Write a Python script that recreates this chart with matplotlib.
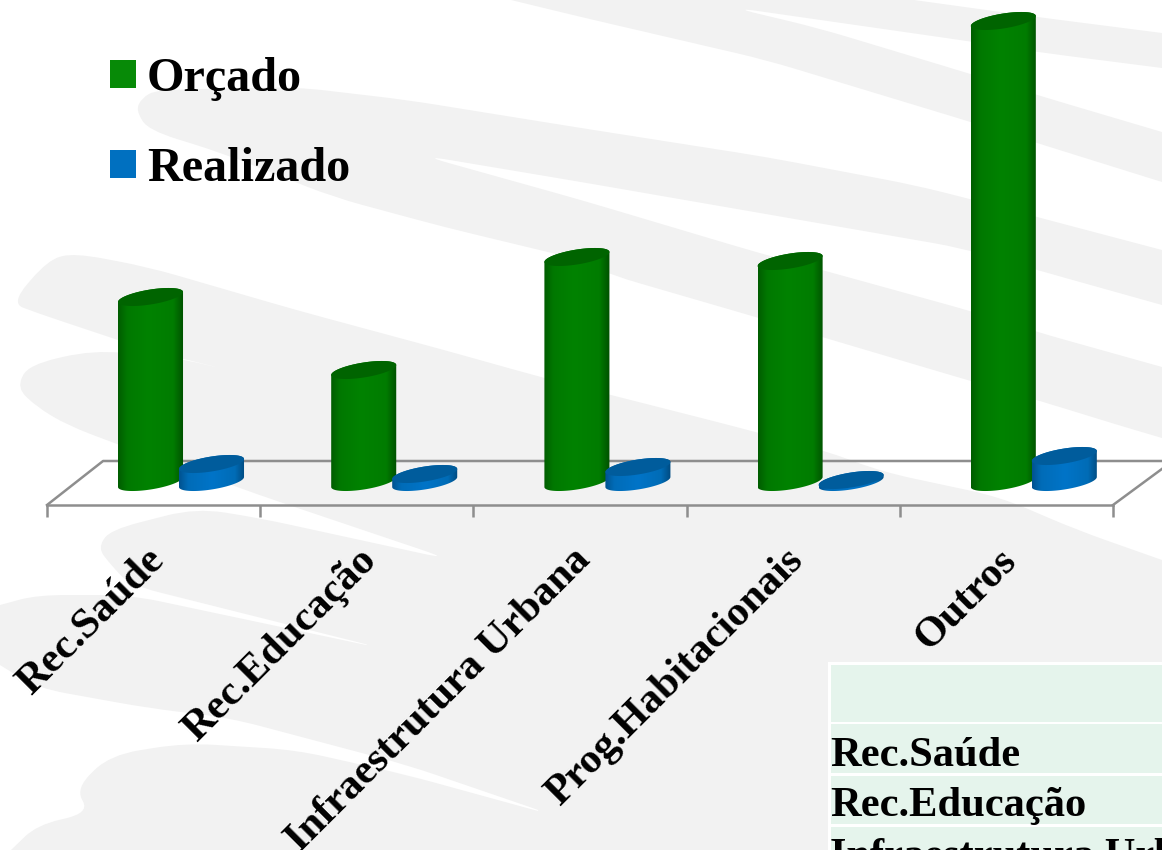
# -*- coding: utf-8 -*-
import numpy as np
import matplotlib
matplotlib.use("Agg")
import matplotlib.pyplot as plt
from matplotlib.colors import LinearSegmentedColormap
from matplotlib.patches import Patch, PathPatch, Polygon, Rectangle
from matplotlib.path import Path
from matplotlib.transforms import ScaledTranslation

# values (no scale shown, so pixels of height)
categories = ['Rec.Saúde', 'Rec.Educação', 'Infraestrutura Urbana', 'Prog.Habitacionais', 'Outros']
orcado = [185, 112, 225, 221, 461]
realizado = [18, 8, 15, 2, 26]
table_rows = ['Rec.Saúde', 'Rec.Educação', 'Infraestrutura Urbana']

W, H = 1162, 850
GREY = '#f2f2f2'
LINE = '#8e8e8e'
SERIF = 'Liberation Serif'

# background swooshes, in pixels
swoosh_a = [(511, 0), (914, 0), (1037, 17), (1162, 33), (1162, 68), (1037, 52), (974, 42), (730, 7),
            (818, 28), (974, 75), (1037, 95), (1162, 132), (1162, 182), (1037, 143), (974, 123),
            (766, 60), (581, 17)]
swoosh_b = [(136, 110), (142, 98), (156, 90), (296, 87), (407, 100), (581, 128), (766, 157), (914, 185),
            (974, 200), (1037, 217), (1162, 250), (1162, 305), (1037, 270), (962, 248), (581, 182),
            (420, 155), (581, 200), (759, 253), (822, 270), (974, 312), (1037, 332), (1162, 367),
            (1162, 438), (1118, 425), (1037, 400), (974, 382), (822, 337), (759, 318), (611, 275),
            (581, 260), (444, 227), (333, 197), (222, 153), (148, 130)]
swoosh_c = [(11, 303), (48, 260), (74, 253), (148, 267), (296, 310), (444, 350), (544, 378), (611, 395),
            (729, 425), (823, 450), (883, 472), (1000, 497), (1077, 530), (1162, 560), (1162, 850), (11, 850),
            (37, 825), (89, 813), (76, 788), (110, 755), (185, 743), (296, 750), (407, 775), (556, 816),
            (407, 765), (230, 718), (148, 708), (37, 688), (0, 665), (0, 605), (37, 595), (130, 595),
            (385, 649), (130, 585), (111, 565), (98, 548), (110, 530), (196, 508), (259, 518), (452, 560),
            (259, 495), (185, 468), (119, 445), (67, 425), (37, 407), (17, 388), (28, 365), (93, 350),
            (178, 358), (232, 371), (148, 350), (37, 313)]


# polygon with its inner corners rounded off
def round_path(pts, r=30):
    pts = np.array(pts, float)
    n = len(pts)
    verts, codes = [], []
    for i in range(n):
        p, a, b = pts[i], pts[i - 1], pts[(i + 1) % n]
        if p[0] <= 0 or p[0] >= W or p[1] <= 0 or p[1] >= H:
            seg = [(p, Path.LINETO)]
        else:
            d1, d2 = np.linalg.norm(a - p), np.linalg.norm(b - p)
            s = p + (a - p) * min(r, 0.45 * d1) / d1
            e = p + (b - p) * min(r, 0.45 * d2) / d2
            seg = [(s, Path.LINETO), (p, Path.CURVE3), (e, Path.CURVE3)]
        for v, c in seg:
            verts.append(v)
            codes.append(c)
    codes[0] = Path.MOVETO
    verts.append(verts[0])
    codes.append(Path.CLOSEPOLY)
    return Path(verts, codes)


fig = plt.figure(figsize=(W / 100, H / 100), dpi=100, facecolor='white')

# background layer in pixel coordinates
bg = fig.add_axes([0, 0, 1, 1])
bg.set_xlim(0, W)
bg.set_ylim(H, 0)
bg.axis('off')
for s in [swoosh_a, swoosh_b, swoosh_c]:
    bg.add_patch(PathPatch(round_path(s), fc=GREY, ec='none'))

# table, cut off by the picture edge
bg.add_patch(Rectangle((828, 662), W - 828, H - 662, fc='white', ec='none'))
row_top = [665, 724, 776, 827]
row_bot = [722, 773, 824, 860]
for t, b in zip(row_top, row_bot):
    bg.add_patch(Rectangle((831, t), W - 831, b - t, fc='#e5f4ec', ec='none'))
for name, y in zip(table_rows, [766, 816, 867]):
    bg.text(830, y, name, family=SERIF, weight='bold', fontsize=30.6, color='black', va='baseline', ha='left')

# chart: x in categories, y in value, baseline at the cylinder base centre
ax = fig.add_axes([47 / W, (H - 505) / H, (1113 - 47) / W, 505 / H])
ax.patch.set_alpha(0)
x = np.arange(len(categories))
off_o, off_r = -0.0145, 0.2716
hw = 0.1525   # half cylinder width
tilt, minor = 5.0, 7.5
floor_front, floor_back = -23, 21


def ell(xc, v, t):
    return np.column_stack([xc + hw * np.cos(t), v + minor * np.sin(t) + tilt * np.cos(t)])


def cylinder(xc, h, cmap, top_color, z):
    low = ell(xc, 0, np.linspace(np.pi, 2 * np.pi, 60))
    up = ell(xc, h, np.linspace(0, np.pi, 60))
    body = Polygon(np.vstack([low, up]), closed=True, fc='none', ec='none', zorder=z)
    ax.add_patch(body)
    im = ax.imshow(np.linspace(0, 1, 256)[None, :], cmap=cmap, aspect='auto', interpolation='bilinear',
                   extent=[xc - hw, xc + hw, -20, h + 20], zorder=z)
    im.set_clip_path(body)
    ax.add_patch(Polygon(ell(xc, h, np.linspace(0, 2 * np.pi, 120)), closed=True, fc=top_color, ec='none',
                         zorder=z + 0.1))


green = LinearSegmentedColormap.from_list('g', [(0, '#005c00'), (0.14, '#007800'), (0.45, '#008200'),
                                                (0.84, '#007c00'), (1, '#005000')])
blue = LinearSegmentedColormap.from_list('b', [(0, '#00528f'), (0.14, '#006cb8'), (0.5, '#0074c8'),
                                               (0.85, '#006cb6'), (1, '#004a80')])

for i in x:
    cylinder(i + off_o, orcado[i], green, '#006400', 3 + i)
    cylinder(i + off_r, realizado[i], blue, '#005c9c', 3.5 + i)

# floor outline
ax.plot([-0.5, -0.237, 4.78], [floor_front, floor_back, floor_back], color=LINE, lw=1.8, clip_on=False, zorder=1)
ax.plot([4.5, 4.78], [floor_front, floor_back], color=LINE, lw=1.8, clip_on=False, zorder=1)

ax.set_xlim(-0.5, 4.5)
ax.set_ylim(floor_front, 482)
for k in ['top', 'left', 'right']:
    ax.spines[k].set_visible(False)
ax.spines['bottom'].set_color(LINE)
ax.spines['bottom'].set_linewidth(1.8)
ax.set_yticks([])
ax.set_xticks(np.arange(-0.5, 5, 1))
ax.set_xticklabels([])
ax.tick_params(axis='x', which='major', length=8.5, width=1.8, color=LINE, direction='out')
ax.set_xticks(x, minor=True)
ax.set_xticklabels(categories, minor=True, rotation=45, ha='right', va='top', rotation_mode='anchor',
                   family=SERIF, weight='bold', fontsize=30.5)
ax.tick_params(axis='x', which='minor', length=0, pad=26)
shift = ScaledTranslation(-9 / 100, 0, fig.dpi_scale_trans)
for lab in ax.get_xticklabels(minor=True):
    lab.set_transform(lab.get_transform() + shift)

handles = [Patch(fc='#078a07', ec='none', label='Orçado'), Patch(fc='#0070c0', ec='none', label='Realizado')]
fig.legend(handles=handles, loc='upper left', bbox_to_anchor=(110 / W, 1 - 57 / H), frameon=False,
           prop={'family': SERIF, 'weight': 'bold', 'size': 34.7}, handlelength=0.54, handleheight=0.52,
           handletextpad=0.23, labelspacing=0.95, borderpad=0, borderaxespad=0)

fig.savefig('out.png', dpi=100)
